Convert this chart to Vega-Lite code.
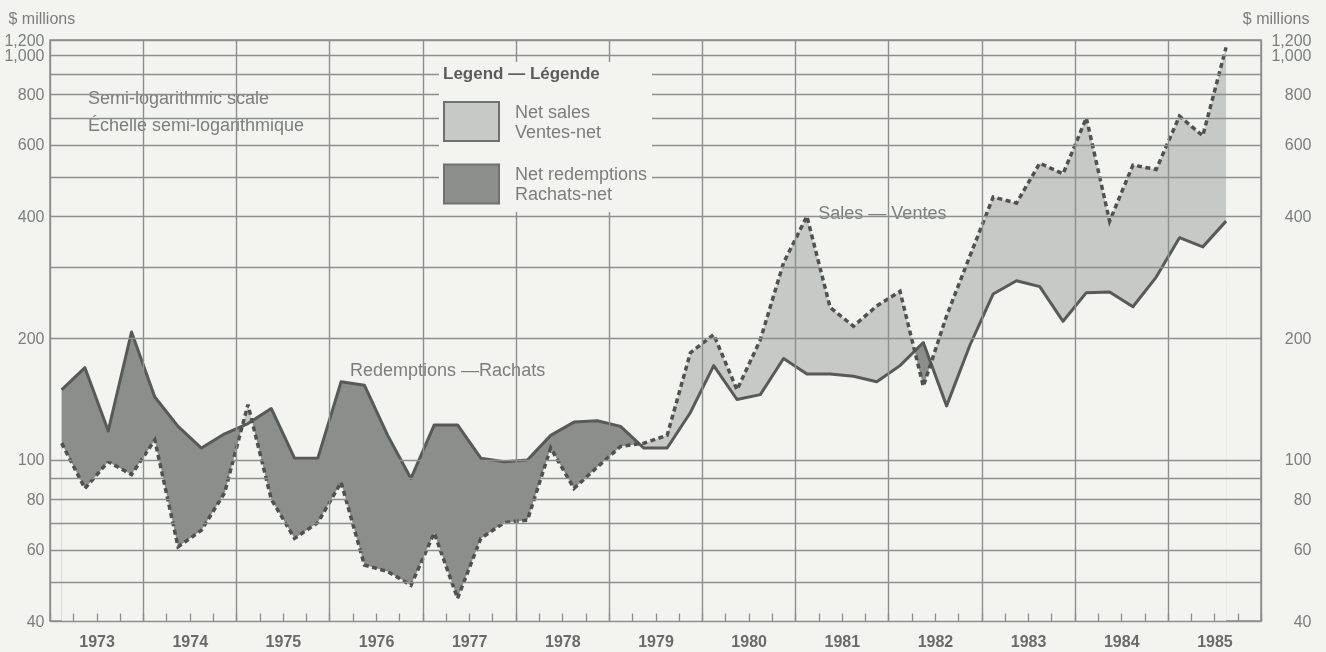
{
  "$schema": "https://vega.github.io/schema/vega-lite/v6.json",
  "width": 1211,
  "height": 581,
  "autosize": {"type": "none"},
  "padding": {"left": 50, "top": 40, "right": 65, "bottom": 31},
  "background": "#f3f4f0",
  "config": {
    "font": "Liberation Sans",
    "view": {"stroke": "#8c908c", "strokeWidth": 1.5, "fill": "#f3f4f0"}
  },
  "data": {"values": [
    {"t": 1973.125, "sales": 110, "redemptions": 149},
    {"t": 1973.375, "sales": 85, "redemptions": 169},
    {"t": 1973.625, "sales": 99, "redemptions": 118},
    {"t": 1973.875, "sales": 92, "redemptions": 207},
    {"t": 1974.125, "sales": 112, "redemptions": 143},
    {"t": 1974.375, "sales": 61, "redemptions": 121},
    {"t": 1974.625, "sales": 67, "redemptions": 107},
    {"t": 1974.875, "sales": 83, "redemptions": 116},
    {"t": 1975.125, "sales": 137, "redemptions": 123},
    {"t": 1975.375, "sales": 80, "redemptions": 134},
    {"t": 1975.625, "sales": 64, "redemptions": 101},
    {"t": 1975.875, "sales": 70, "redemptions": 101},
    {"t": 1976.125, "sales": 88, "redemptions": 156},
    {"t": 1976.375, "sales": 55, "redemptions": 153},
    {"t": 1976.625, "sales": 53, "redemptions": 115},
    {"t": 1976.875, "sales": 49, "redemptions": 90},
    {"t": 1977.125, "sales": 66, "redemptions": 122},
    {"t": 1977.375, "sales": 45.5, "redemptions": 122},
    {"t": 1977.625, "sales": 64, "redemptions": 101},
    {"t": 1977.875, "sales": 70, "redemptions": 99},
    {"t": 1978.125, "sales": 71, "redemptions": 100},
    {"t": 1978.375, "sales": 107, "redemptions": 115},
    {"t": 1978.625, "sales": 85, "redemptions": 124},
    {"t": 1978.875, "sales": 96, "redemptions": 125},
    {"t": 1979.125, "sales": 108, "redemptions": 121},
    {"t": 1979.375, "sales": 110, "redemptions": 107},
    {"t": 1979.625, "sales": 115, "redemptions": 107},
    {"t": 1979.875, "sales": 184, "redemptions": 131},
    {"t": 1980.125, "sales": 204, "redemptions": 171},
    {"t": 1980.375, "sales": 149, "redemptions": 141},
    {"t": 1980.625, "sales": 198, "redemptions": 145},
    {"t": 1980.875, "sales": 307, "redemptions": 178},
    {"t": 1981.125, "sales": 400, "redemptions": 163},
    {"t": 1981.375, "sales": 238, "redemptions": 163},
    {"t": 1981.625, "sales": 214, "redemptions": 161},
    {"t": 1981.875, "sales": 240, "redemptions": 156},
    {"t": 1982.125, "sales": 261, "redemptions": 171},
    {"t": 1982.375, "sales": 152, "redemptions": 195},
    {"t": 1982.625, "sales": 227, "redemptions": 136},
    {"t": 1982.875, "sales": 319, "redemptions": 192},
    {"t": 1983.125, "sales": 446, "redemptions": 257},
    {"t": 1983.375, "sales": 431, "redemptions": 277},
    {"t": 1983.625, "sales": 541, "redemptions": 268},
    {"t": 1983.875, "sales": 509, "redemptions": 220},
    {"t": 1984.125, "sales": 700, "redemptions": 259},
    {"t": 1984.375, "sales": 389, "redemptions": 260},
    {"t": 1984.625, "sales": 535, "redemptions": 239},
    {"t": 1984.875, "sales": 522, "redemptions": 283},
    {"t": 1985.125, "sales": 707, "redemptions": 354},
    {"t": 1985.375, "sales": 632, "redemptions": 336},
    {"t": 1985.625, "sales": 1045, "redemptions": 389}
  ]},
  "resolve": {"axis": {"y": "independent"}},
  "layer": [
    {
      "mark": {"type": "area"},
      "encoding": {
        "x": {
          "field": "t", "type": "quantitative",
          "scale": {"domain": [1973, 1986], "nice": false, "zero": false},
          "axis": {
            "title": null,
            "values": [1973,1973.25,1973.5,1973.75,1974,1974.25,1974.5,1974.75,1975,1975.25,1975.5,1975.75,1976,1976.25,1976.5,1976.75,1977,1977.25,1977.5,1977.75,1978,1978.25,1978.5,1978.75,1979,1979.25,1979.5,1979.75,1980,1980.25,1980.5,1980.75,1981,1981.25,1981.5,1981.75,1982,1982.25,1982.5,1982.75,1983,1983.25,1983.5,1983.75,1984,1984.25,1984.5,1984.75,1985,1985.25,1985.5,1985.75,1986],
            "tickCount": 100,
            "labelExpr": "datum.value % 1 == 0.5 ? floor(datum.value) : ''",
            "grid": true,
            "gridColor": "#8c908c",
            "gridWidth": 1.4,
            "gridOpacity": {"condition": {"test": "datum.value % 1 == 0", "value": 1}, "value": 0},
            "domain": false,
            "ticks": true,
            "tickSize": -8,
            "tickColor": "#8c908c",
            "tickWidth": 1.3,
            "labelPadding": 28,
            "labelFontSize": 16,
            "labelFontWeight": "bold",
            "labelColor": "#686c68",
            "labelBaseline": "middle",
            "labelFlush": false,
            "labelOverlap": false,
            "labelBound": false,
            "zindex": 1
          }
        },
        "y": {
          "field": "redemptions", "type": "quantitative",
          "scale": {"type": "log", "domain": [40, 1090], "nice": false, "zero": false},
          "axis": {
            "orient": "left",
            "values": [40,50,60,70,80,90,100,200,300,400,500,600,700,800,900,1000,1090],
            "tickCount": 50,
            "labelExpr": "datum.value == 1090 ? '1,200' : (indexof([40,60,80,100,200,400,600,800,1000], datum.value) >= 0 ? format(datum.value, ',') : '')",
            "grid": true,
            "gridColor": "#8c908c",
            "gridWidth": 1.4,
            "ticks": false,
            "domain": false,
            "labelPadding": 6,
            "labelFontSize": 16,
            "labelColor": "#7b7f7b",
            "labelBaseline": "middle",
            "labelFlush": false,
            "labelOverlap": false,
            "labelBound": false,
            "title": "$ millions",
            "titleAngle": 0,
            "titleX": -42,
            "titleY": -22,
            "titleAlign": "left",
            "titleBaseline": "middle",
            "titleFontSize": 16,
            "titleFontWeight": "normal",
            "titleColor": "#7b7f7b",
            "zindex": 1
          }
        },
        "y2": {"datum": 40},
        "color": {
          "datum": "Net redemptions",
          "scale": {"domain": ["Net sales", "Net redemptions"], "range": ["#c6c9c5", "#8b8e8b"]},
          "legend": {
            "orient": "none",
            "legendX": 389,
            "legendY": 22,
            "title": "Legend — Légende",
            "titleFontSize": 17,
            "titleFontWeight": "bold",
            "titleColor": "#5a5d5a",
            "titlePadding": 10,
            "symbolType": "M-1,-0.71L1,-0.71L1,0.71L-1,0.71Z",
            "symbolSize": 3025,
            "symbolStrokeColor": "#6e716e",
            "symbolStrokeWidth": 2,
            "labelFontSize": 18,
            "labelColor": "#7b7f7b",
            "labelOffset": 15,
            "labelLimit": 300,
            "labelBaseline": "bottom",
            "labelExpr": "datum.label == 'Net sales' ? ['Net sales', 'Ventes-net'] : ['Net redemptions', 'Rachats-net']",
            "rowPadding": 9.5,
            "padding": 4,
            "fillColor": "#f3f4f0",
            "zindex": 2
          }
        }
      }
    },
    {
      "mark": {"type": "area", "color": "#f3f4f0"},
      "encoding": {
        "x": {"field": "t", "type": "quantitative"},
        "y": {"field": "sales", "type": "quantitative", "axis": null},
        "y2": {"datum": 40}
      }
    },
    {
      "mark": {"type": "area", "blend": "darken"},
      "encoding": {
        "x": {"field": "t", "type": "quantitative"},
        "y": {"field": "sales", "type": "quantitative", "axis": null},
        "y2": {"field": "redemptions"},
        "color": {"datum": "Net sales"}
      }
    },
    {
      "mark": {"type": "line", "color": "#575a57", "strokeWidth": 3, "strokeJoin": "round"},
      "encoding": {
        "x": {"field": "t", "type": "quantitative"},
        "y": {
          "field": "redemptions", "type": "quantitative",
          "axis": {
            "orient": "right",
            "values": [40,50,60,70,80,90,100,200,300,400,500,600,700,800,900,1000,1090],
            "tickCount": 50,
            "labelExpr": "datum.value == 1090 ? '1,200' : (indexof([40,60,80,100,200,400,600,800,1000], datum.value) >= 0 ? format(datum.value, ',') : '')",
            "grid": false,
            "ticks": false,
            "domain": false,
            "labelAlign": "right",
            "labelPadding": 50,
            "labelFontSize": 16,
            "labelColor": "#7b7f7b",
            "labelBaseline": "middle",
            "labelFlush": false,
            "labelOverlap": false,
            "labelBound": false,
            "title": "$ millions",
            "titleAngle": 0,
            "titleX": 48,
            "titleY": -22,
            "titleAlign": "right",
            "titleBaseline": "middle",
            "titleFontSize": 16,
            "titleFontWeight": "normal",
            "titleColor": "#7b7f7b",
            "zindex": 1
          }
        }
      }
    },
    {
      "mark": {"type": "line", "color": "#4f524f", "strokeWidth": 3.5, "strokeDash": [5, 3.5]},
      "encoding": {
        "x": {"field": "t", "type": "quantitative"},
        "y": {"field": "sales", "type": "quantitative", "axis": null}
      }
    },
    {
      "data": {"values": [{}]},
      "mark": {"type": "text", "text": "Semi-logarithmic scale", "align": "left", "baseline": "middle", "fontSize": 18, "color": "#7b7f7b"},
      "encoding": {
        "x": {"datum": 1973.408, "type": "quantitative"},
        "y": {"datum": 779, "type": "quantitative", "axis": null}
      }
    },
    {
      "data": {"values": [{}]},
      "mark": {"type": "text", "text": "Échelle semi-logarithmique", "align": "left", "baseline": "middle", "fontSize": 18, "color": "#7b7f7b"},
      "encoding": {
        "x": {"datum": 1973.408, "type": "quantitative"},
        "y": {"datum": 669, "type": "quantitative", "axis": null}
      }
    },
    {
      "data": {"values": [{}]},
      "mark": {"type": "text", "text": "Sales — Ventes", "align": "left", "baseline": "middle", "fontSize": 18, "color": "#7b7f7b"},
      "encoding": {
        "x": {"datum": 1981.248, "type": "quantitative"},
        "y": {"datum": 406, "type": "quantitative", "axis": null}
      }
    },
    {
      "data": {"values": [{}]},
      "mark": {"type": "text", "text": "Redemptions —Rachats", "align": "left", "baseline": "middle", "fontSize": 18, "color": "#7b7f7b"},
      "encoding": {
        "x": {"datum": 1976.221, "type": "quantitative"},
        "y": {"datum": 166, "type": "quantitative", "axis": null}
      }
    }
  ]
}
